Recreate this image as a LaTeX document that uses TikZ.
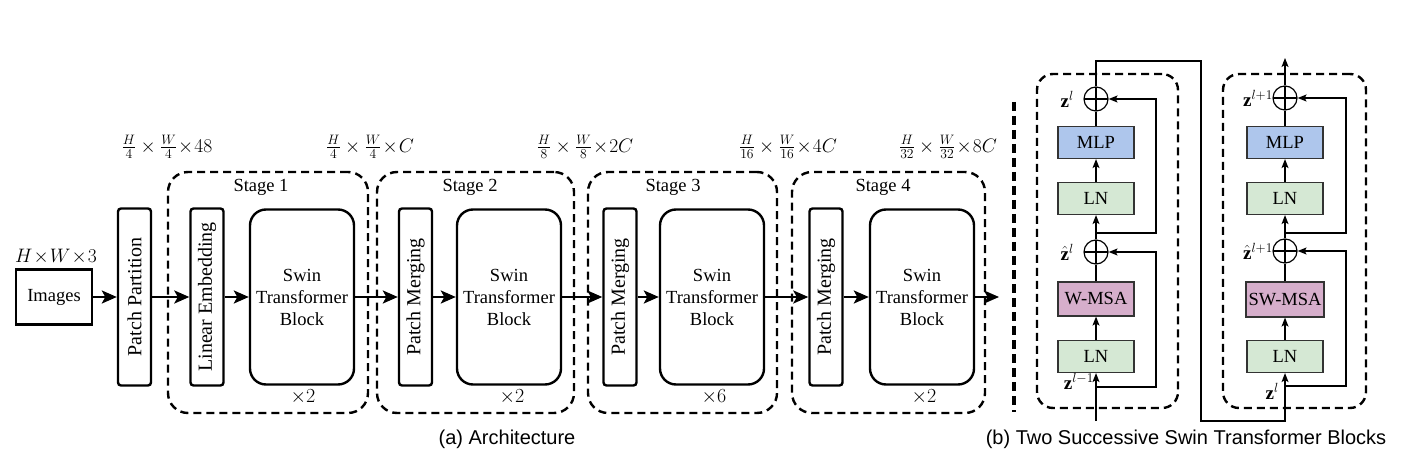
\RequirePackage{fix-cm}
\documentclass[tikz,border=0pt]{standalone}
\usepackage{fontspec}
\setmainfont{Liberation Serif}
\newfontfamily\capfont{Liberation Sans}
\usetikzlibrary{arrows.meta}
\definecolor{mlpblue}{HTML}{AEC6EC}
\definecolor{lngreen}{HTML}{D5E8D4}
\definecolor{msapurple}{HTML}{D6AECB}
\definecolor{boxline}{HTML}{333333}
\begin{document}
\begin{tikzpicture}[x=1pt,y=-1pt,
  every node/.style={font=\fontsize{18.5}{22}\selectfont},
  thickline/.style={line width=2.4pt},
  bigarrow/.style={thickline,-{Stealth[length=15pt,width=13pt,inset=3.5pt]}},
  thinline/.style={line width=1.2pt},
  smallarrow/.style={thinline,-{Stealth[length=9pt,width=7pt,inset=2pt]}},
  tallbox/.style={draw,thickline,rounded corners=3pt,rotate=90,minimum width=177pt,minimum height=33pt,inner sep=0pt,font=\fontsize{20}{24}\selectfont},
  swinbox/.style={draw,thickline,rounded corners=16pt,minimum width=104pt,minimum height=175pt,align=center,inner sep=0pt},
  stagebox/.style={draw,thickline,dash pattern=on 8pt off 5pt,rounded corners=20pt,minimum height=241pt,inner sep=0pt},
  blockbox/.style={draw,thickline,dash pattern=on 8pt off 5pt,rounded corners=16pt,minimum height=334pt,inner sep=0pt},
  opbox/.style={draw=boxline,thinline,minimum width=76pt,minimum height=32pt,inner sep=0pt},
  plus/.style={draw,thinline,circle,minimum size=24pt,inner sep=0pt,
    path picture={\draw[thinline] (path picture bounding box.north) -- (path picture bounding box.south);
                  \draw[thinline] (path picture bounding box.west) -- (path picture bounding box.east);}},
  zlab/.style={font=\fontsize{19}{22}\selectfont,inner sep=0pt},
  dimlab/.style={font=\fontsize{19.5}{23}\selectfont},
  replab/.style={font=\fontsize{20}{24}\selectfont},
  caption/.style={font=\capfont\fontsize{20}{24}\selectfont}
]
\useasboundingbox (0,0) rectangle (1407,462);

% ---- stage boxes
\node[stagebox,minimum width=200pt] (st1) at (268,292.5) {};
\node[stagebox,minimum width=197pt] (st2) at (475.5,292.5) {};
\node[stagebox,minimum width=189pt] (st3) at (682.5,292.5) {};
\node[stagebox,minimum width=193pt] (st4) at (888.5,292.5) {};
\node (st1l) at (261,187) {Stage 1};
\node (st2l) at (470,187) {Stage 2};
\node (st3l) at (673,187) {Stage 3};
\node (st4l) at (883,187) {Stage 4};
\node[replab] (rep1) at (303,397) {$\times 2$};
\node[replab] (rep2) at (512,397) {$\times 2$};
\node[replab] (rep3) at (714,397) {$\times 6$};
\node[replab] (rep4) at (924,397) {$\times 2$};

% ---- dimension labels
\node[dimlab] (d0) at (56,257) {$H\!\times\! W\!\times\! 3$};
\node[dimlab] (d1) at (167,147) {$\frac{H}{4}\times\frac{W}{4}\!\times\! 48$};
\node[dimlab] (d2) at (370,147) {$\frac{H}{4}\times\frac{W}{4}\!\times\! C$};
\node[dimlab] (d3) at (585,147) {$\frac{H}{8}\times\frac{W}{8}\!\times\! 2C$};
\node[dimlab] (d4) at (788,147) {$\frac{H}{16}\times\frac{W}{16}\!\times\! 4C$};
\node[dimlab] (d5) at (948,147) {$\frac{H}{32}\times\frac{W}{32}\!\times\! 8C$};

% ---- main pipeline
\node[draw,thickline,minimum width=76pt,minimum height=55pt,inner sep=0pt] (img) at (54,297) {Images};
\node[tallbox] (pp) at (134.5,297) {Patch Partition};
\node[tallbox] (le) at (207,297) {Linear Embedding};
\node[swinbox] (sw1) at (302,297) {Swin\\Transformer\\Block};
\node[tallbox] (pm2) at (415.5,297) {Patch Merging};
\node[swinbox] (sw2) at (509,297) {Swin\\Transformer\\Block};
\node[tallbox] (pm3) at (620,297) {Patch Merging};
\node[swinbox] (sw3) at (712,297) {Swin\\Transformer\\Block};
\node[tallbox] (pm4) at (826,297) {Patch Merging};
\node[swinbox] (sw4) at (922,297) {Swin\\Transformer\\Block};
\coordinate (outa) at (999,297);

\draw[bigarrow] (img) -- (pp);
\draw[bigarrow] (pp) -- (le);
\draw[bigarrow] (le) -- (sw1);
\draw[bigarrow] (sw1) -- (pm2);
\draw[bigarrow] (pm2) -- (sw2);
\draw[bigarrow] (sw2) -- (pm3);
\draw[bigarrow] (pm3) -- (sw3);
\draw[bigarrow] (sw3) -- (pm4);
\draw[bigarrow] (pm4) -- (sw4);
\draw[bigarrow] (sw4) -- (outa);

% ---- separator
\coordinate (sepa) at (1014,102);
\coordinate (sepb) at (1014,412);
\draw[line width=4pt,dash pattern=on 9pt off 5pt] (sepa) -- (sepb);

% ---- block 1
\node[blockbox,minimum width=141pt] (bb1) at (1107.5,241) {};
\node[plus] (c1t) at (1096,99) {};
\node[opbox,fill=mlpblue] (mlp1) at (1096,142.5) {MLP};
\node[opbox,fill=lngreen] (ln1a) at (1096,198.5) {LN};
\node[plus] (c1b) at (1096,252) {};
\node[opbox,fill=msapurple,minimum height=34pt] (msa1) at (1096,299) {W-MSA};
\node[opbox,fill=lngreen] (ln1b) at (1096,356.5) {LN};
\coordinate (in1) at (1096,421);
\coordinate (r1a) at (1096,387);
\coordinate (r1b) at (1096,233);
\coordinate (tA) at (1096,61);
\coordinate (tB) at (1201,421);

\draw[thinline] (c1t) -- (mlp1);
\draw[smallarrow] (ln1a) -- (mlp1);
\draw[smallarrow] (c1b) -- (ln1a);
\draw[thinline] (msa1) -- (c1b);
\draw[smallarrow] (ln1b) -- (msa1);
\draw[smallarrow] (in1) -- (ln1b);
\draw[smallarrow] (r1a) -- ++(60,0) |- (c1b.east);
\draw[smallarrow] (r1b) -- ++(60,0) |- (c1t.east);

\node[zlab,anchor=east] (z1) at (1074,99) {$\mathbf{z}^{l}$};
\node[zlab,anchor=east] (zh1) at (1074,252) {$\hat{\mathbf{z}}^{l}$};
\node[zlab,anchor=east] (z0) at (1094,381) {$\mathbf{z}^{l-1}$};

% ---- block 2
\node[blockbox,minimum width=143pt] (bb2) at (1294.5,241) {};
\node[plus] (c2t) at (1285,98) {};
\node[opbox,fill=mlpblue] (mlp2) at (1285,142.5) {MLP};
\node[opbox,fill=lngreen] (ln2a) at (1285,198.5) {LN};
\node[plus] (c2b) at (1285,251) {};
\node[opbox,fill=msapurple,minimum width=78pt,minimum height=35pt] (msa2) at (1285,299.5) {SW-MSA};
\node[opbox,fill=lngreen] (ln2b) at (1285,356.5) {LN};
\coordinate (r2a) at (1285,386);
\coordinate (r2b) at (1285,233);
\coordinate (out2) at (1285,58);

\draw[smallarrow] (c1t.north) -- (tA) -| (tB) -| (ln2b.south);
\draw[thinline] (c2t) -- (mlp2);
\draw[smallarrow] (ln2a) -- (mlp2);
\draw[smallarrow] (c2b) -- (ln2a);
\draw[thinline] (msa2) -- (c2b);
\draw[smallarrow] (ln2b) -- (msa2);
\draw[smallarrow] (r2a) -- ++(61,0) |- (c2b.east);
\draw[smallarrow] (r2b) -- ++(61,0) |- (c2t.east);
\draw[smallarrow] (c2t) -- (out2);

\node[zlab,anchor=east] (z3) at (1273,98) {$\mathbf{z}^{l+1}$};
\node[zlab,anchor=east] (zh3) at (1273,251) {$\hat{\mathbf{z}}^{l+1}$};
\node[zlab,anchor=east] (z2) at (1279,391) {$\mathbf{z}^{l}$};

% ---- captions
\node[caption] (capa) at (507,439) {(a) Architecture};
\node[caption] (capb) at (1186,439) {(b) Two Successive Swin Transformer Blocks};
\end{tikzpicture}
\end{document}
